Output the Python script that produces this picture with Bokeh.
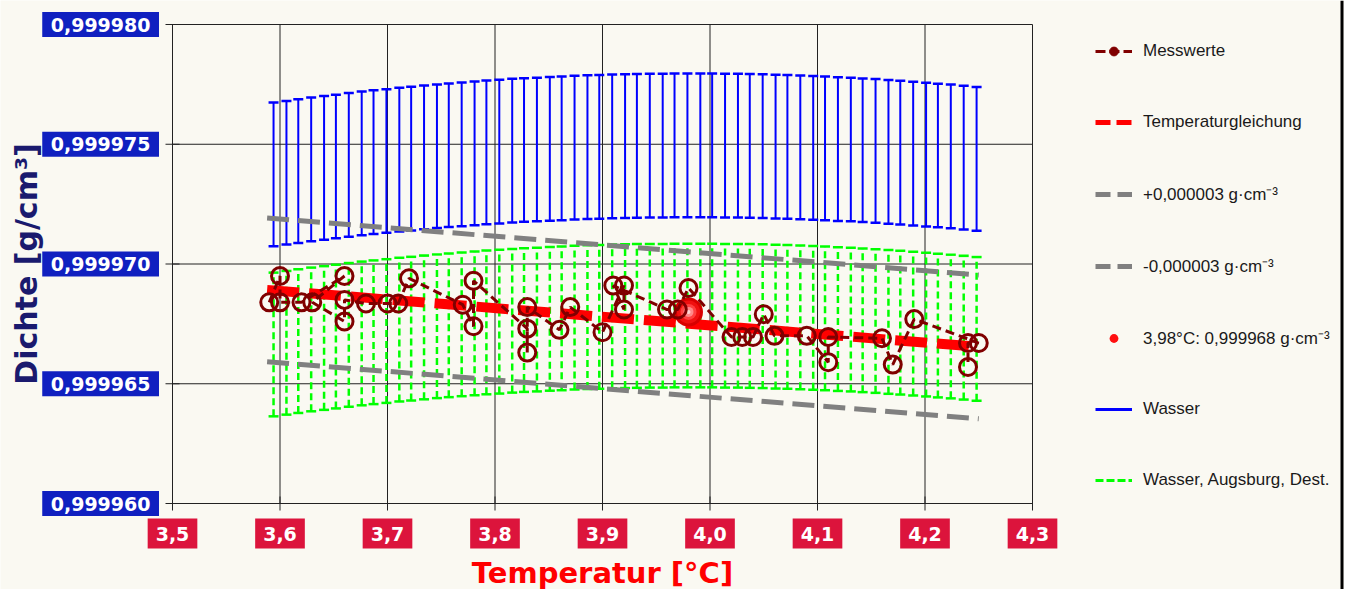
import numpy as np
from bokeh.plotting import figure
from bokeh.models import Range1d, Label, Legend, LegendItem, Span
from bokeh.embed import file_html
from bokeh.resources import INLINE

# ---------------- data ----------------
grid_t = [3.594, 3.606, 3.617, 3.629, 3.641, 3.652, 3.664, 3.676, 3.687, 3.699,
          3.711, 3.722, 3.734, 3.746, 3.757, 3.769, 3.781, 3.792, 3.804, 3.816,
          3.827, 3.839, 3.851, 3.862, 3.874, 3.886, 3.897, 3.909, 3.921, 3.932,
          3.944, 3.956, 3.967, 3.979, 3.991, 4.002, 4.014, 4.026, 4.037, 4.049,
          4.061, 4.072, 4.084, 4.096, 4.107, 4.119, 4.131, 4.142, 4.154, 4.166,
          4.177, 4.189, 4.201, 4.212, 4.224, 4.236, 4.248]

wasser = [0.99997374, 0.99997381, 0.99997388, 0.99997395, 0.99997401, 0.99997407,
          0.99997414, 0.99997420, 0.99997425, 0.99997430, 0.99997436, 0.99997440,
          0.99997445, 0.99997450, 0.99997454, 0.99997458, 0.99997462, 0.99997466,
          0.99997469, 0.99997473, 0.99997476, 0.99997478, 0.99997481, 0.99997483,
          0.99997486, 0.99997488, 0.99997489, 0.99997491, 0.99997492, 0.99997493,
          0.99997494, 0.99997494, 0.99997495, 0.99997495, 0.99997495, 0.99997495,
          0.99997494, 0.99997494, 0.99997493, 0.99997492, 0.99997490, 0.99997489,
          0.99997487, 0.99997485, 0.99997483, 0.99997480, 0.99997478, 0.99997475,
          0.99997472, 0.99997468, 0.99997465, 0.99997461, 0.99997457, 0.99997453,
          0.99997449, 0.99997444, 0.99997439]

augsburg = [0.99996664, 0.99996671, 0.99996678, 0.99996685, 0.99996691, 0.99996697,
            0.99996704, 0.99996710, 0.99996715, 0.99996720, 0.99996726, 0.99996730,
            0.99996735, 0.99996740, 0.99996744, 0.99996748, 0.99996752, 0.99996756,
            0.99996759, 0.99996763, 0.99996766, 0.99996768, 0.99996771, 0.99996773,
            0.99996776, 0.99996778, 0.99996779, 0.99996781, 0.99996782, 0.99996783,
            0.99996784, 0.99996784, 0.99996785, 0.99996785, 0.99996785, 0.99996785,
            0.99996784, 0.99996784, 0.99996783, 0.99996782, 0.99996780, 0.99996779,
            0.99996777, 0.99996775, 0.99996773, 0.99996770, 0.99996768, 0.99996765,
            0.99996762, 0.99996758, 0.99996755, 0.99996751, 0.99996747, 0.99996743,
            0.99996739, 0.99996734, 0.99996729]

band = 0.000003          # +/- range of the water bars
toleranz = 0.000003      # +/- 0,000003 g/cm3

mess_t = [3.59, 3.60, 3.60, 3.62, 3.66, 3.63, 3.66, 3.66, 3.68, 3.70,
          3.71, 3.72, 3.77, 3.78, 3.78, 3.83, 3.83, 3.83, 3.86, 3.87,
          3.90, 3.92, 3.92, 3.91, 3.96, 3.97, 3.98, 4.02, 4.03, 4.04,
          4.05, 4.06, 4.09, 4.11, 4.11, 4.16, 4.17, 4.19, 4.25, 4.24, 4.24]
mess_rho = [0.9999684, 0.9999695, 0.9999684, 0.9999684, 0.9999695, 0.9999684,
            0.9999676, 0.9999685, 0.99996835, 0.99996835, 0.99996835, 0.9999694,
            0.9999683, 0.9999674, 0.9999693, 0.9999673, 0.9999663, 0.9999682,
            0.99996725, 0.9999682, 0.99996715, 0.9999691, 0.9999681, 0.9999691,
            0.9999681, 0.9999681, 0.9999690, 0.99996695, 0.99996695, 0.99996695,
            0.9999679, 0.9999670, 0.9999670, 0.9999659, 0.99996695, 0.9999669,
            0.9999658, 0.9999677, 0.9999667, 0.9999667, 0.9999657]

gleichung_t = [3.588, 4.25]
gleichung_rho = [0.99996892, 0.99996654]

max_t = [3.98]
max_rho = [0.999968]

xticks = [3.5, 3.6, 3.7, 3.8, 3.9, 4.0, 4.1, 4.2, 4.3]
xtick_labels = ["3,5", "3,6", "3,7", "3,8", "3,9", "4,0", "4,1", "4,2", "4,3"]
yticks = [0.99996, 0.999965, 0.99997, 0.999975, 0.99998]
ytick_labels = ["0,999960", "0,999965", "0,999970", "0,999975", "0,999980"]

legend_labels = ["Messwerte", "Temperaturgleichung", "+0,000003 g\u00b7cm\u207b\u00b3",
                 "-0,000003 g\u00b7cm\u207b\u00b3", "3,98\u00b0C: 0,999968 g\u00b7cm\u207b\u00b3",
                 "Wasser", "Wasser, Augsburg, Dest."]

# ---------------- layout (pixels) ----------------
W, H = 1344, 589
FL, FR, FT, FB = 172, 1032, 24, 503      # plot-area box in pixels
XMIN, XMAX = xticks[0], xticks[-1]
YMIN, YMAX = yticks[0], yticks[-1]
kx = (FR - FL) / (XMAX - XMIN)
ky = (FB - FT) / (YMAX - YMIN)
x_start = XMIN - FL / kx
x_end = x_start + W / kx
y_end = YMAX + FT / ky
y_start = y_end - H / ky

# ---------------- styling ----------------
BG = "#FAF9F2"
MAROON = "#800000"
BLUE = "#0000FF"
LIME = "#00FF00"
GRAY = "#808080"
RED = "#FF0000"
YBOX = "#1020C0"
XBOX = "#DC143C"
NAN2 = [float("nan"), float("nan")]

p = figure(width=W, height=H,
           x_range=Range1d(x_start, x_end), y_range=Range1d(y_start, y_end),
           output_backend="svg", toolbar_location=None,
           min_border=0, background_fill_color=BG, border_fill_color=BG)
p.xaxis.visible = False
p.yaxis.visible = False
p.xgrid.visible = False
p.ygrid.visible = False
p.outline_line_color = None

# grid lines + plot box
p.segment(x0=xticks, y0=[YMIN] * len(xticks), x1=xticks, y1=[YMAX] * len(xticks),
          line_color="#222222", line_width=1)
p.segment(x0=[XMIN] * len(yticks), y0=yticks, x1=[XMAX] * len(yticks), y1=yticks,
          line_color="#222222", line_width=1)
# tick marks
p.scatter([XMIN] * len(yticks), yticks, marker="dash", size=14, line_color="#222222", line_width=1)
p.scatter(xticks, [YMIN] * len(xticks), marker="dash", angle=np.pi / 2, size=14,
          line_color="#222222", line_width=1)
# right border of the picture
p.add_layout(Span(location=x_start + (W - 2.5) / kx, dimension="height",
                  line_color="black", line_width=3))

w = np.array(wasser)
a = np.array(augsburg)
g = np.array(gleichung_rho)

# Augsburg (green dashed bars)
p.segment(x0=grid_t, y0=a - band, x1=grid_t, y1=a + band,
          line_color=LIME, line_width=2.5, line_dash="7 4")
p.scatter(grid_t, a + band, marker="dash", size=10, line_color=LIME, line_width=2.5)
p.scatter(grid_t, a - band, marker="dash", size=10, line_color=LIME, line_width=2.5)

# Wasser (blue bars)
p.segment(x0=grid_t, y0=w - band, x1=grid_t, y1=w + band,
          line_color=BLUE, line_width=2)
p.scatter(grid_t, w + band, marker="dash", size=10, line_color=BLUE, line_width=2.5)
p.scatter(grid_t, w - band, marker="dash", size=10, line_color=BLUE, line_width=2.5)

# tolerance lines
p.line(gleichung_t, g + toleranz, line_color=GRAY, line_width=5, line_dash="22 9")
p.line(gleichung_t, g - toleranz, line_color=GRAY, line_width=5, line_dash="22 9")

# Temperaturgleichung
p.line(gleichung_t, gleichung_rho, line_color=RED, line_width=10, line_dash="32 10")

# density maximum ball
for s, c in ((29, "#D80000"), (23, "#F01010"), (16, "#FF4040"), (10, "#FF8A8A"), (4, "#FFD6D6")):
    p.scatter(max_t, max_rho, size=s, fill_color=c, line_color=None)

# Messwerte
p.line(mess_t, mess_rho, line_color=MAROON, line_width=3, line_dash="9 5")
p.scatter(mess_t, mess_rho, size=17, fill_color=None, line_color=MAROON, line_width=3)

# ---------------- legend (dummy renderers, nothing drawn in plot) ----------------
l1a = p.line(x=NAN2, y=NAN2, line_color=MAROON, line_width=3, line_dash="10 4")
l1b = p.scatter(x=NAN2, y=NAN2, size=10, fill_color=MAROON, line_color=MAROON)
l2 = p.line(x=NAN2, y=NAN2, line_color=RED, line_width=5, line_dash="15 6")
l3 = p.line(x=NAN2, y=NAN2, line_color=GRAY, line_width=5, line_dash="15 7")
l4 = p.line(x=NAN2, y=NAN2, line_color=GRAY, line_width=5, line_dash="15 7")
l5 = p.scatter(x=NAN2, y=NAN2, size=11, fill_color="#FF1010", line_color=None)
l6 = p.line(x=NAN2, y=NAN2, line_color=BLUE, line_width=3)
l7 = p.line(x=NAN2, y=NAN2, line_color=LIME, line_width=3, line_dash="8 3")

legend = Legend(items=[
    LegendItem(label=legend_labels[0], renderers=[l1a, l1b]),
    LegendItem(label=legend_labels[1], renderers=[l2]),
    LegendItem(label=legend_labels[2], renderers=[l3]),
    LegendItem(label=legend_labels[3], renderers=[l4]),
    LegendItem(label=legend_labels[4], renderers=[l5]),
    LegendItem(label=legend_labels[5], renderers=[l6]),
    LegendItem(label=legend_labels[6], renderers=[l7]),
], location=(1095, 98), orientation="vertical", spacing=49,
    glyph_height=22, glyph_width=37, label_height=22, label_standoff=11,
    padding=0, margin=0, border_line_alpha=0, background_fill_alpha=0,
    label_text_font="Liberation Sans", label_text_font_size="17px",
    label_text_color="#1A1A1A")
p.add_layout(legend)

# ---------------- tick label boxes ----------------
for t, lab in zip(xticks, xtick_labels):
    p.add_layout(Label(x=t, y=YMIN, y_offset=-30, text=lab,
                       text_align="center", text_baseline="middle",
                       text_color="white", text_font="DejaVu Sans",
                       text_font_style="bold", text_font_size="19px",
                       background_fill_color=XBOX,
                       border_line_color=XBOX, border_line_width=16,
                       border_line_join="miter",
                       padding=dict(left=0, right=0, top=0, bottom=0)))
for v, lab in zip(yticks, ytick_labels):
    p.add_layout(Label(x=XMIN, y=v, x_offset=-19, text=lab,
                       text_align="right", text_baseline="middle",
                       text_color="white", text_font="DejaVu Sans",
                       text_font_style="bold", text_font_size="19px",
                       background_fill_color=YBOX,
                       border_line_color=YBOX, border_line_width=11,
                       border_line_join="miter",
                       padding=dict(left=3, right=3, top=0, bottom=0)))

# axis titles
p.add_layout(Label(x=(XMIN + XMAX) / 2, y=H - 572, x_units="data", y_units="screen",
                   text="Temperatur [\u00b0C]", text_align="center", text_baseline="middle",
                   text_color=RED, text_font="DejaVu Sans", text_font_style="bold",
                   text_font_size="29px"))
p.add_layout(Label(x=26, y=(YMIN + YMAX) / 2, x_units="screen", y_units="data", angle=np.pi / 2,
                   text="Dichte [g/cm\u00b3]", text_align="center", text_baseline="middle",
                   text_color="#1A1A6E", text_font="DejaVu Sans", text_font_style="bold",
                   text_font_size="30px"))

open("out.html", "w").write(file_html(p, INLINE))
